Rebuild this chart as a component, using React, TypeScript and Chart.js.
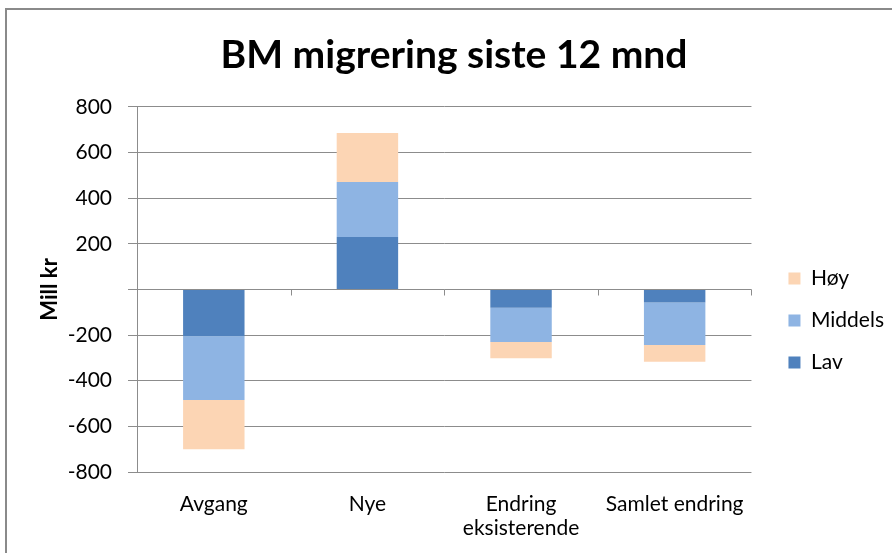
import React, { useEffect, useRef } from 'react';
import { Chart, registerables } from 'chart.js';

Chart.register(...registerables);

const categories: (string | string[])[] = ['Avgang', 'Nye', ['Endring', 'eksisterende'], 'Samlet endring'];
const lavValues = [-205, 230, -80, -57];
const middelsValues = [-280, 240, -150, -187];
const hoyValues = [-215, 215, -72, -73];
const yMin = -800;
const yMax = 800;
const yStep = 200;

const FONT = 'Lato, "Open Sans", sans-serif';
const GRID = '#8c8c8c';

const framePlugin = {
  id: 'frame',
  afterLayout(chart: any) {
    const lg = chart.legend;
    if (!lg) return;
    const pad = lg.options.labels.padding;
    const dx = chart.chartArea.right + 37 - (lg.left + pad);
    lg.left += dx;
    lg.right += dx;
    const colH = lg.columnSizes && lg.columnSizes[0] ? lg.columnSizes[0].height : 0;
    const start = (lg.top + pad + lg.bottom - colH) / 2;
    const dy = 268 - start;
    lg.top += dy;
    lg.bottom += dy;
  },
  beforeDraw(chart: any) {
    const { ctx, width, height } = chart;
    ctx.save();
    ctx.fillStyle = '#ffffff';
    ctx.fillRect(0, 0, width, height);
    ctx.strokeStyle = '#8a8a8a';
    ctx.lineWidth = 2;
    ctx.beginPath();
    ctx.moveTo(6, height);
    ctx.lineTo(6, 9);
    ctx.lineTo(width, 9);
    ctx.stroke();
    ctx.restore();
  },
  afterDraw(chart: any) {
    const { ctx } = chart;
    const x = chart.scales.x;
    const y = chart.scales.y;
    const y0 = Math.round(y.getPixelForValue(0)) + 0.5;
    ctx.save();
    ctx.strokeStyle = GRID;
    ctx.lineWidth = 1;
    ctx.beginPath();
    for (let i = 0; i < categories.length; i++) {
      const cur = x.getPixelForValue(i);
      const next = i < categories.length - 1 ? x.getPixelForValue(i + 1) : cur + (cur - x.getPixelForValue(i - 1));
      const bx = Math.round((cur + next) / 2) + 0.5;
      ctx.moveTo(bx, y0);
      ctx.lineTo(bx, y0 + 6);
    }
    ctx.stroke();
    ctx.restore();
  },
};

export default function App() {
  const ref = useRef<HTMLCanvasElement | null>(null);

  useEffect(() => {
    if (!ref.current) return;
    const chart = new Chart(ref.current, {
      type: 'bar',
      data: {
        labels: categories as any,
        datasets: [
          { label: 'Lav', data: lavValues, backgroundColor: '#4F81BD' },
          { label: 'Middels', data: middelsValues, backgroundColor: '#8EB4E3' },
          { label: 'Høy', data: hoyValues, backgroundColor: '#FCD5B4' },
        ],
      },
      options: {
        responsive: false,
        animation: false,
        devicePixelRatio: 1,
        layout: { padding: { left: 30, right: 14, top: 10, bottom: 0 } },
        datasets: {
          bar: { barPercentage: 0.4, categoryPercentage: 1, borderWidth: 0 },
        },
        scales: {
          x: {
            stacked: true,
            grid: { display: false },
            border: { display: false },
            ticks: {
              font: { family: FONT, size: 21, lineHeight: 1.15 },
              color: '#000',
              padding: 12,
              maxRotation: 0,
              autoSkip: false,
            },
            afterFit(scale: any) {
              scale.height = 81;
            },
          },
          y: {
            stacked: true,
            min: yMin,
            max: yMax,
            grid: { color: GRID, tickLength: 9, lineWidth: 1 },
            border: { display: true, color: GRID },
            ticks: {
              stepSize: yStep,
              font: { family: FONT, size: 21 },
              color: '#000',
              padding: 16,
              callback: (v: any) => (Number(v) === 0 ? '' : String(v)),
            },
            title: {
              display: true,
              text: 'Mill kr',
              font: { family: FONT, size: 22, weight: 'bold' },
              color: '#000',
              padding: { top: 7, bottom: 0 },
            },
            afterFit(scale: any) {
              scale.width = 107;
            },
          },
        },
        plugins: {
          title: {
            display: true,
            text: 'BM migrering siste 12 mnd',
            font: { family: FONT, size: 39, weight: 'bold' },
            color: '#000',
            padding: { top: 22, bottom: 28 },
          },
          legend: {
            position: 'right',
            reverse: true,
            labels: {
              boxWidth: 12,
              boxHeight: 12,
              padding: 21,
              font: { family: FONT, size: 21 },
              color: '#000',
            },
          },
          tooltip: { enabled: false },
        },
      },
      plugins: [framePlugin],
    } as any);
    return () => chart.destroy();
  }, []);

  return (
    <div style={{ position: 'fixed', left: 0, top: 0, width: 892, height: 553 }}>
      <canvas ref={ref} width={892} height={553} />
    </div>
  );
}
